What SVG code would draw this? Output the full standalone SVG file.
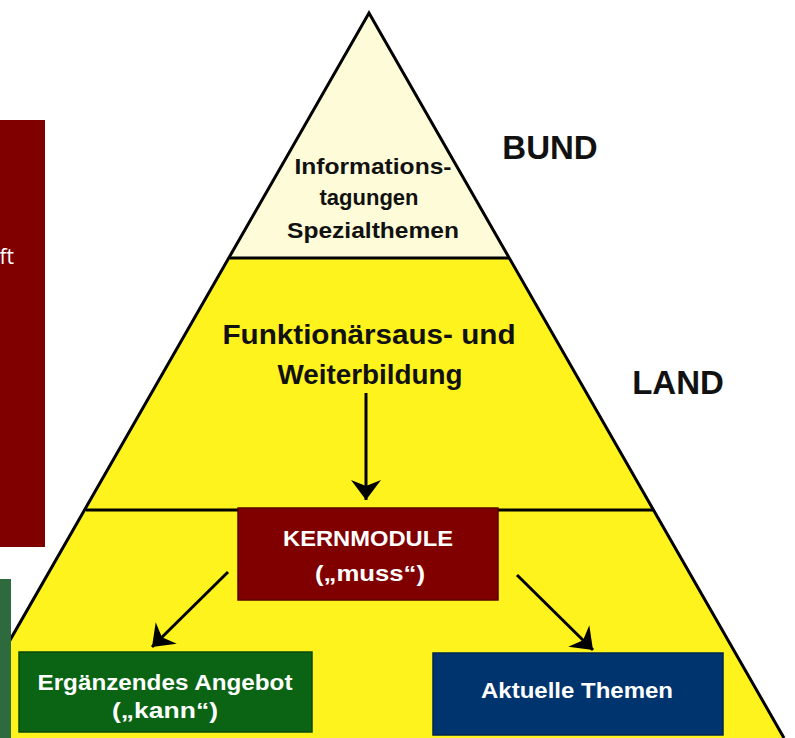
<svg xmlns="http://www.w3.org/2000/svg" width="795" height="738" viewBox="0 0 795 738">
<style>
.t{font-family:"Liberation Sans",Arial,sans-serif;font-weight:bold;text-anchor:middle}
.dk{fill:#111}
.wh{fill:#fff}
.edge{stroke:#000;stroke-width:3;fill:none}
.conn{stroke:#000;stroke-width:3;fill:none}
</style>
<defs>
<marker id="ah" viewBox="0 0 20 30" refX="20" refY="15" markerWidth="20" markerHeight="30" markerUnits="userSpaceOnUse" orient="auto">
<path d="M0,0 L20,15 L0,30 L6,15 Z" fill="#000"/>
</marker>
</defs>
<rect width="795" height="738" fill="#fff"/>
<g id="side-red">
<rect x="0" y="120" width="45" height="427" fill="#800000"/>
<text x="14" y="264" font-family="'Open Sans','Liberation Sans',sans-serif" font-size="21" fill="#fff" text-anchor="end">ft</text>
</g>
<g id="pyramid">
<polygon points="369,13 230,258 509,258" fill="#FEFBD8"/>
<polygon points="230,258 509,258 653,510 86,510" fill="#FFF31E"/>
<polygon points="86,510 653,510 784,738 -46,738" fill="#FFF31E"/>
<line class="edge" x1="230" y1="258" x2="509" y2="258"/>
<line class="edge" x1="86" y1="510" x2="653" y2="510"/>
<polyline class="edge" points="-46,738 369,13 784,738"/>
</g>
<g id="side-green">
<rect x="0" y="579" width="11" height="159" fill="#2d6a3e"/>
</g>
<g id="bund-level">
<text class="t dk" x="373" y="174" font-size="22" textLength="157" lengthAdjust="spacingAndGlyphs">Informations-</text>
<text class="t dk" x="369" y="205" font-size="22" textLength="99" lengthAdjust="spacingAndGlyphs">tagungen</text>
<text class="t dk" x="373" y="238" font-size="22" textLength="172" lengthAdjust="spacingAndGlyphs">Spezialthemen</text>
</g>
<g id="land-level">
<text class="t dk" x="369" y="344" font-size="28" textLength="293" lengthAdjust="spacingAndGlyphs">Funktionärsaus- und</text>
<text class="t dk" x="370" y="384" font-size="28" textLength="185" lengthAdjust="spacingAndGlyphs">Weiterbildung</text>
</g>
<g id="label-bund"><text class="t dk" x="550" y="159" font-size="33">BUND</text></g>
<g id="label-land"><text class="t dk" x="678" y="394" font-size="33">LAND</text></g>
<g id="kernmodule">
<rect x="238" y="508" width="260" height="92" fill="#800000" stroke="#5a0000" stroke-width="1.5"/>
<text class="t wh" x="368" y="546" font-size="22" textLength="170" lengthAdjust="spacingAndGlyphs">KERNMODULE</text>
<text class="t wh" x="370" y="581" font-size="22" textLength="110" lengthAdjust="spacingAndGlyphs">(„muss“)</text>
</g>
<g id="ergaenzend">
<rect x="19" y="652" width="293" height="80" fill="#0A6414" stroke="#064a0c" stroke-width="1.5"/>
<text class="t wh" x="165" y="690" font-size="22" textLength="255" lengthAdjust="spacingAndGlyphs">Ergänzendes Angebot</text>
<text class="t wh" x="165" y="718" font-size="22" textLength="106" lengthAdjust="spacingAndGlyphs">(„kann“)</text>
</g>
<g id="aktuell">
<rect x="433" y="653" width="290" height="82" fill="#00346E" stroke="#00244f" stroke-width="1.5"/>
<text class="t wh" x="577" y="698" font-size="22" textLength="192" lengthAdjust="spacingAndGlyphs">Aktuelle Themen</text>
</g>
<g id="connectors">
<line class="conn" x1="366" y1="393" x2="366" y2="500" marker-end="url(#ah)"/>
<line class="conn" x1="228" y1="572" x2="152" y2="647" marker-end="url(#ah)"/>
<line class="conn" x1="517" y1="575" x2="593" y2="650" marker-end="url(#ah)"/>
</g>
</svg>
